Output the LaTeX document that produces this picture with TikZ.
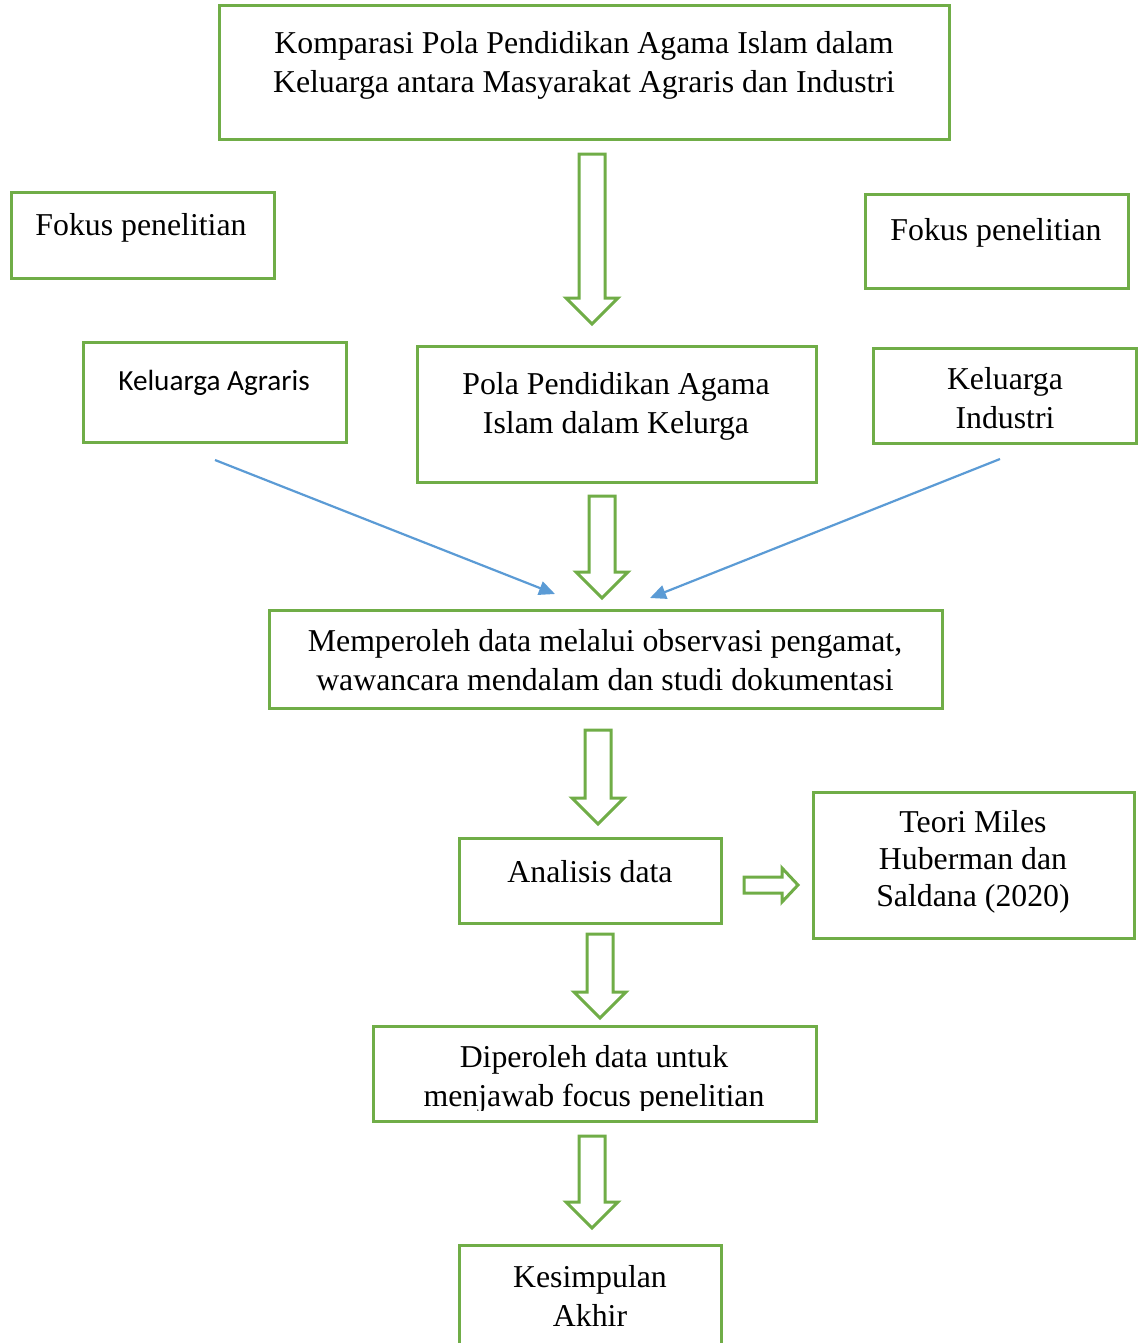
\documentclass[tikz,border=0pt]{standalone}
\usepackage{fontspec}
\setmainfont{Liberation Serif}
\newfontfamily\calibri{Carlito}
\usetikzlibrary{calc,arrows.meta}
\definecolor{agreen}{HTML}{70AD47}
\definecolor{ablue}{HTML}{5B9BD5}
\tikzset{
  box/.style={draw=agreen, line width=1.5pt, rectangle, inner sep=0pt},
  boxsize/.style 2 args={minimum width=#1*0.5pt, minimum height=#2*0.5pt},
  txt/.style={font=\fontsize{15.9}{19.5}\selectfont, align=center, inner sep=0pt},
  hollow/.style={draw=agreen, line width=1.5pt, fill=white},
  thin/.style={draw=ablue, line width=1.1pt, -{Triangle[length=8pt,width=7pt]}}
}
\newcommand{\hollowdown}[2]{%
  \draw[hollow] ($(#1)+(-13,0)$) -- ($(#2)+(-13,-26)$) -- ($(#2)+(-26,-26)$) -- (#2)
    -- ($(#2)+(26,-26)$) -- ($(#2)+(13,-26)$) -- ($(#1)+(13,0)$) -- cycle;}
\newcommand{\hollowright}[2]{%
  \draw[hollow] ($(#1)+(0,-8)$) -- ($(#2)+(-16,-8)$) -- ($(#2)+(-16,-17)$) -- (#2)
    -- ($(#2)+(-16,17)$) -- ($(#2)+(-16,8)$) -- ($(#1)+(0,8)$) -- cycle;}
\begin{document}
\begin{tikzpicture}[x=0.5pt,y=-0.5pt]
\useasboundingbox (0,0) rectangle (1137,1343);
% boxes
\node[box, boxsize={730}{133}] (top) at (584,72.5) {};
\node[box, boxsize={263}{86}] (fokusL) at (142.5,235) {};
\node[box, boxsize={263}{94}] (fokusR) at (996.5,241) {};
\node[box, boxsize={263}{100}] (agraris) at (214.5,392) {};
\node[box, boxsize={399}{136}] (pola) at (616.5,414) {};
\node[box, boxsize={263}{95}] (industri) at (1004.5,395.5) {};
\node[box, boxsize={673}{98}] (data) at (605.5,659) {};
\node[box, boxsize={262}{85}] (analisis) at (590,880.5) {};
\node[box, boxsize={321}{146}] (teori) at (973.5,865) {};
\node[box, boxsize={443}{95}] (diperoleh) at (594.5,1073.5) {};
\node[box, boxsize={262}{120}] (akhir) at (590,1305) {};
% texts
\node[txt] (topT) at (584,65) {Komparasi Pola Pendidikan Agama Islam dalam\\Keluarga antara Masyarakat Agraris dan Industri};
\node[txt] (fokusLT) at (141,228) {Fokus penelitian};
\node[txt] (fokusRT) at (996,233) {Fokus penelitian};
\node[txt, font=\calibri\fontsize{14.6}{18}\selectfont] (agrarisT) at (214,383) {Keluarga Agraris};
\node[txt] (polaT) at (616,406) {Pola Pendidikan Agama\\Islam dalam Kelurga};
\node[txt] (industriT) at (1005,398) {Keluarga\\Industri};
\node[txt] (dataT) at (605,660) {Memperoleh data melalui observasi pengamat,\\wawancara mendalam dan studi dokumentasi};
\node[txt] (analisisT) at (590,872) {Analisis data};
\node[txt, font=\fontsize{15.9}{18.5}\selectfont] (teoriT) at (973,862) {Teori Miles\\Huberman dan\\Saldana (2020)};
\begin{scope}
\clip (373,1026) rectangle (816,1110);
\node[txt] (diperolehT) at (594,1079) {Diperoleh data untuk\\menjawab focus penelitian};
\end{scope}
\node[txt] (akhirT) at (590,1296) {Kesimpulan\\Akhir};
% arrows
\coordinate (a1) at (592,154); \coordinate (a1t) at (592,324);
\coordinate (a2) at (602,496); \coordinate (a2t) at (602,598);
\coordinate (a3) at (598,730); \coordinate (a3t) at (598,824);
\coordinate (a4) at (600,934); \coordinate (a4t) at (600,1018);
\coordinate (a5) at (592,1136); \coordinate (a5t) at (592,1228);
\coordinate (a6) at (744,885); \coordinate (a6t) at (798,885);
\hollowdown{a1}{a1t}
\hollowdown{a2}{a2t}
\hollowdown{a3}{a3t}
\hollowdown{a4}{a4t}
\hollowdown{a5}{a5t}
\hollowright{a6}{a6t}
\coordinate (b1) at (215,460); \coordinate (b1t) at (555,594);
\coordinate (b2) at (1000,459); \coordinate (b2t) at (650,598);
\draw[thin] (b1) -- (b1t);
\draw[thin] (b2) -- (b2t);
\end{tikzpicture}
\end{document}
